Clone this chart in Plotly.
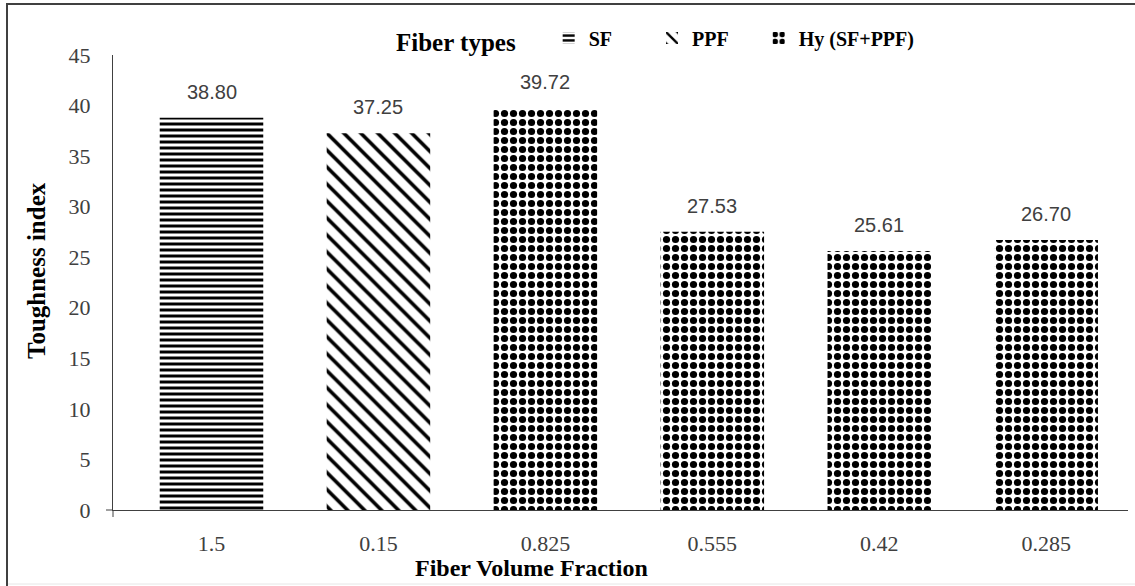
import plotly.graph_objects as go

categories = ["1.5", "0.15", "0.825", "0.555", "0.42", "0.285"]
fiber_type = ["SF", "PPF", "Hy (SF+PPF)", "Hy (SF+PPF)", "Hy (SF+PPF)", "Hy (SF+PPF)"]
toughness = [38.80, 37.25, 39.72, 27.53, 25.61, 26.70]
y_ticks = [0, 5, 10, 15, 20, 25, 30, 35, 40, 45]
legend_pad = {"SF": 7, "PPF": 5, "Hy (SF+PPF)": 0}

W, H = 1135, 586
ML, MR, MT, MB = 113, 7, 55, 76
PW, PH = W - ML - MR, H - MT - MB

def px_x(x):
    return (x - ML) / PW

def px_y(y):
    return 1 - (y - MT) / PH

serif = "Liberation Serif, Times New Roman, serif"
sans = "Liberation Sans, Arial, sans-serif"
grey = "#404040"

patterns = {
    "SF": dict(shape="-", size=6, solidity=0.5),
    "PPF": dict(shape="\\", size=12, solidity=0.3),
    "Hy (SF+PPF)": dict(shape=".", size=9, solidity=0.5),
}

fig = go.Figure()
for t in ["SF", "PPF", "Hy (SF+PPF)"]:
    xs = [c for c, f in zip(categories, fiber_type) if f == t]
    ys = [v for v, f in zip(toughness, fiber_type) if f == t]
    pat = dict(fgcolor="black", bgcolor="white", fillmode="replace", **patterns[t])
    fig.add_trace(go.Bar(
        x=xs, y=ys, name=t + "\u00a0" * legend_pad[t],
        marker=dict(color="white", line=dict(width=0), pattern=pat),
        width=0.62,
    ))

annotations = [
    dict(x=i, y=v, xref="x", yref="y", text=f"{v:.2f}", showarrow=False,
         yanchor="bottom", yshift=13,
         font=dict(family=sans, size=20, color=grey))
    for i, v in enumerate(toughness)
]
annotations += [
    dict(text="<b>Toughness index</b>", xref="paper", yref="paper",
         x=px_x(36), y=px_y(271), xanchor="center", yanchor="middle",
         textangle=-90, showarrow=False,
         font=dict(family=serif, size=25, color="black")),
    dict(text="<b>Fiber Volume Fraction</b>", xref="paper", yref="paper",
         x=px_x(531), y=px_y(568), xanchor="center", yanchor="middle", showarrow=False,
         font=dict(family=serif, size=24, color="black")),
]

fig.update_layout(
    width=W, height=H,
    margin=dict(l=ML, r=MR, t=MT, b=MB),
    paper_bgcolor="white", plot_bgcolor="white",
    barmode="overlay",
    showlegend=True,
    legend=dict(
        orientation="h", x=px_x(394), xanchor="left", y=px_y(40), yanchor="middle",
        title=dict(text="<b>Fiber types</b>\u00a0\u00a0\u00a0\u00a0",
                   font=dict(family=serif, size=25, color="black")),
        font=dict(family=serif, size=20, color="black", weight="bold"),
        bgcolor="rgba(0,0,0,0)",
    ),
    xaxis=dict(
        type="category", categoryorder="array", categoryarray=categories,
        range=[-0.59, 5.49],
        showline=True, linecolor=grey, linewidth=1, ticks="",
        tickfont=dict(family=serif, size=22, color=grey),
        ticklabelstandoff=14, showgrid=False,
    ),
    yaxis=dict(
        range=[0, 45], tickvals=y_ticks, showline=True, linecolor=grey, linewidth=1,
        ticks="", showgrid=False, zeroline=False,
        tickfont=dict(family=serif, size=22, color=grey),
        ticklabelstandoff=17,
    ),
    annotations=annotations,
    shapes=[
        dict(type="line", xref="paper", yref="paper", x0=px_x(7), x1=px_x(7), y0=px_y(4), y1=px_y(586),
             line=dict(color=grey, width=2)),
        dict(type="line", xref="paper", yref="paper", x0=px_x(6), x1=px_x(1135), y0=px_y(4), y1=px_y(4),
             line=dict(color=grey, width=2)),
        dict(type="line", xref="paper", yref="paper", x0=px_x(8), x1=px_x(1135), y0=px_y(584), y1=px_y(584),
             line=dict(color="#e6e6e6", width=1)),
        dict(type="line", xref="paper", yref="paper", x0=0, x1=0, y0=0, y1=px_y(517),
             line=dict(color=grey, width=1)),
        dict(type="line", xref="paper", yref="paper", x0=px_x(106), x1=0, y0=0, y1=0,
             line=dict(color=grey, width=1)),
    ],
)

fig.write_html("out.html")
